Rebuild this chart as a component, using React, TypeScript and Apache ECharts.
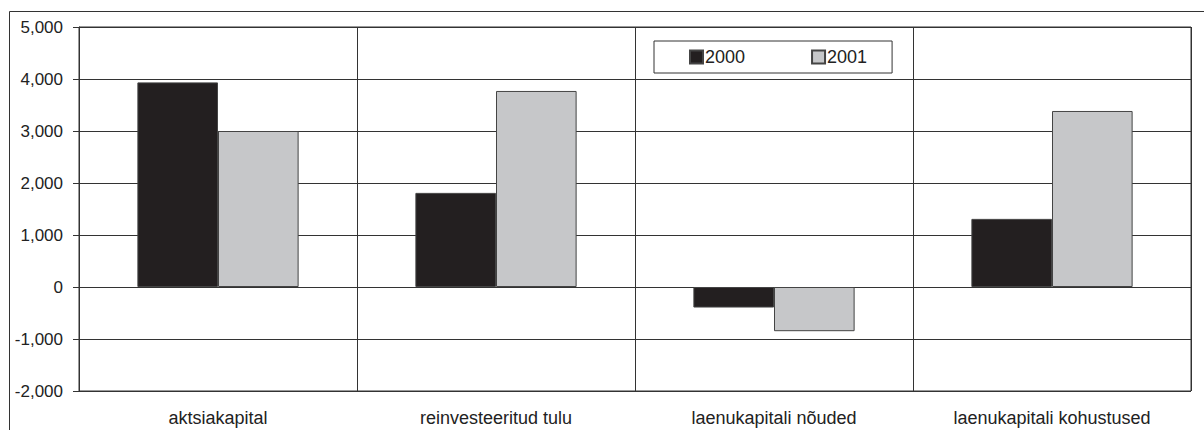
import React, { useEffect, useRef } from "react";
import * as echarts from "echarts";

const categories = ["aktsiakapital", "reinvesteeritud tulu", "laenukapitali nõuded", "laenukapitali kohustused"];
const series2000 = [3935, 1810, -395, 1310];
const series2001 = [3000, 3770, -850, 3385];
const seriesNames = ["2000", "2001"];

export default function App() {
  const ref = useRef<HTMLDivElement>(null);
  useEffect(() => {
    document.body.style.margin = "0";
    const chart = echarts.init(ref.current!, null, { renderer: "svg" });
    const fmt = (v: number) => {
      const s = Math.abs(v).toString().replace(/\B(?=(\d{3})+(?!\d))/g, ",");
      return (v < 0 ? "-" : "") + s;
    };
    chart.setOption({
      animation: false,
      textStyle: { fontFamily: "Liberation Sans, Arial, sans-serif" },
      grid: {
        left: 79,
        top: 27,
        width: 1112,
        height: 364,
        show: true,
        borderColor: "#333",
        borderWidth: 1,
        backgroundColor: "#fff",
      },
      graphic: [
        {
          type: "rect",
          shape: { x: 9.5, y: 11.5, width: 1300, height: 500 },
          style: { fill: "none", stroke: "#333", lineWidth: 1 },
          z: -10,
        },
      ],
      legend: {
        data: seriesNames,
        left: 654,
        top: 41,
        height: 31,
        padding: [7, 25, 7, 35],
        itemGap: 66,
        itemWidth: 13,
        itemHeight: 13,
        borderColor: "#333",
        borderWidth: 1,
        backgroundColor: "#fff",
        icon: "rect",
        textStyle: { fontSize: 18, color: "#222", padding: [0, 0, 0, -3] },
      },
      xAxis: {
        type: "category",
        data: categories,
        axisLine: { show: false },
        axisTick: { show: false },
        splitLine: { show: true, lineStyle: { color: "#333", width: 1 } },
        axisLabel: { fontSize: 18, color: "#222", margin: 18, interval: 0 },
      },
      yAxis: {
        type: "value",
        min: -2000,
        max: 5000,
        interval: 1000,
        axisLine: { show: true, onZero: false, lineStyle: { color: "#333" } },
        axisTick: { show: true, length: 6, lineStyle: { color: "#333" } },
        splitLine: { show: true, lineStyle: { color: "#333", width: 1 } },
        axisLabel: { fontSize: 17, color: "#222", margin: 16, formatter: fmt },
      },
      series: [
        {
          name: seriesNames[0],
          type: "bar",
          data: series2000,
          barGap: "0%",
          barCategoryGap: "42%",
          itemStyle: { color: "#231f20", borderColor: "#444", borderWidth: 1 },
        },
        {
          name: seriesNames[1],
          type: "bar",
          data: series2001,
          barGap: "0%",
          barCategoryGap: "42%",
          itemStyle: { color: "#c6c7c9", borderColor: "#444", borderWidth: 1 },
        },
      ],
    });
    return () => chart.dispose();
  }, []);
  return <div ref={ref} style={{ width: 1204, height: 430 }} />;
}
